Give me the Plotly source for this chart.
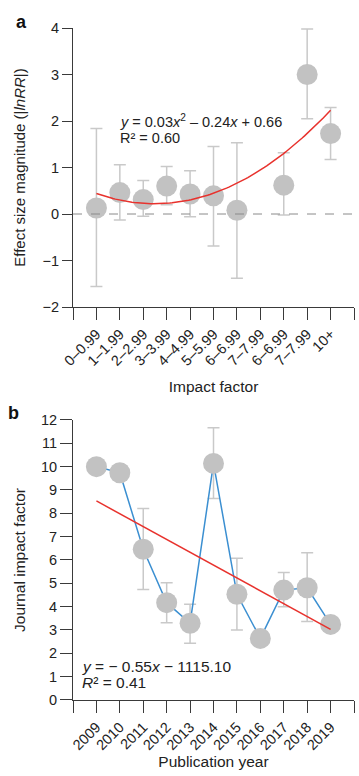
import numpy as np
import plotly.graph_objects as go

# ---------- Panel a data ----------
a_labels = ["0–0.99", "1–1.99", "2–2.99", "3–3.99", "4–4.99", "5–5.99",
            "6–6.99", "7–7.99", "6–6.99", "7–7.99", "10+"]
a_values = [0.13, 0.46, 0.31, 0.60, 0.43, 0.39, 0.08, None, 0.62, 3.00, 1.73]
a_upper = [1.84, 1.06, 0.72, 1.02, 0.93, 1.45, 1.53, None, 1.32, 3.98, 2.29]
a_lower = [-1.56, -0.13, -0.05, 0.20, -0.06, -0.69, -1.38, None, -0.02, 2.05, 1.17]
# quadratic trend (in category-index units), as drawn
a_fit_coef = [0.0356, -0.177, 0.44]

# ---------- Panel b data ----------
b_years = [2009, 2010, 2011, 2012, 2013, 2014, 2015, 2016, 2017, 2018, 2019]
b_values = [10.0, 9.74, 6.46, 4.17, 3.29, 10.14, 4.53, 2.64, 4.71, 4.81, 3.24]
b_upper = [None, None, 8.21, 5.03, 4.10, 11.67, 6.07, None, 5.46, 6.31, None]
b_lower = [None, None, 4.74, 3.31, 2.43, 8.64, 3.00, None, 4.00, 3.36, None]
b_fit_years = [2009, 2019]
b_fit_values = [8.53, 3.03]

FONT = "Liberation Sans, Arial, Helvetica, sans-serif"
MARK = "#c2c2c2"
ERR = "#c9c9c9"
AX = "#3a3a3a"


def errs(vals, up, lo):
    plus, minus = [], []
    for v, u, l in zip(vals, up, lo):
        if v is None or u is None:
            plus.append(np.nan)
            minus.append(np.nan)
        else:
            plus.append(u - v)
            minus.append(v - l)
    return plus, minus


fig = go.Figure()

# Panel a
ax_idx = list(range(len(a_labels)))
pa, ma = errs(a_values, a_upper, a_lower)
fig.add_trace(go.Scatter(
    x=ax_idx, y=[np.nan if v is None else v for v in a_values],
    mode="markers",
    marker=dict(size=21, color=MARK, line=dict(width=0)),
    error_y=dict(type="data", array=pa, arrayminus=ma, color=ERR,
                 thickness=1.5, width=6, symmetric=False),
    xaxis="x", yaxis="y", showlegend=False, hoverinfo="skip"))

xs = np.linspace(0, len(a_labels) - 1, 100)
ys = np.polyval(a_fit_coef, xs)
fig.add_trace(go.Scatter(x=xs, y=ys, mode="lines",
                         line=dict(color="#e8322d", width=1.5),
                         xaxis="x", yaxis="y", showlegend=False, hoverinfo="skip"))

# Panel b
pb, mb = errs(b_values, b_upper, b_lower)
fig.add_trace(go.Scatter(
    x=b_years, y=b_values, mode="lines+markers",
    line=dict(color="#3b8fd1", width=1.5),
    marker=dict(size=21, color=MARK, line=dict(width=0)),
    error_y=dict(type="data", array=pb, arrayminus=mb, color=ERR,
                 thickness=1.5, width=6, symmetric=False),
    xaxis="x2", yaxis="y2", showlegend=False, hoverinfo="skip"))
fig.add_trace(go.Scatter(x=b_fit_years, y=b_fit_values, mode="lines",
                         line=dict(color="#e8322d", width=1.5),
                         xaxis="x2", yaxis="y2", showlegend=False, hoverinfo="skip"))

tickfont = dict(family=FONT, size=14.5, color="#222")
common_ax = dict(showline=True, linecolor=AX, linewidth=1, ticks="outside",
                 tickcolor=AX, tickwidth=1, showgrid=False,
                 zeroline=False, tickfont=tickfont)

fig.update_layout(
    width=359, height=776,
    margin=dict(l=73, r=5, t=28, b=76),
    paper_bgcolor="white", plot_bgcolor="white",
    font=dict(family=FONT, color="#222"),
    xaxis=dict(domain=[0, 1], anchor="y", range=[-1, 11],
               tickvals=ax_idx, ticktext=a_labels,
               tickangle=-45, ticklen=12,
               minor=dict(tickvals=[-1, 11], ticklen=12, tickcolor=AX, tickwidth=1, ticks="outside"),
               title=dict(text="Impact factor", font=dict(family=FONT, size=15.5), standoff=13),
               **common_ax),
    yaxis=dict(domain=[0.5848, 1], anchor="x", range=[-2, 4], tickvals=[-2, -1, 0, 1, 2, 3, 4],
               ticktext=["−2", "−1", "0", "1", "2", "3", "4"], ticklen=10,
               title=dict(text="Effect size magnitude (|<i>lnRR</i>|)", font=dict(family=FONT, size=15), standoff=13),
               **common_ax),
    xaxis2=dict(domain=[0, 1], anchor="y2", range=[2008, 2020],
                tickvals=b_years, ticktext=[str(y) for y in b_years],
                tickangle=-45, ticklen=12,
                minor=dict(tickvals=[2008, 2020], ticklen=12, tickcolor=AX, tickwidth=1, ticks="outside"),
                title=dict(text="Publication year", font=dict(family=FONT, size=15.5), standoff=3),
                **common_ax),
    yaxis2=dict(domain=[0, 0.4167], anchor="x2", range=[0, 12], dtick=1, ticklen=12,
                title=dict(text="Journal impact factor", font=dict(family=FONT, size=15.5), standoff=11),
                **common_ax),
)

# dashed zero line in panel a
fig.add_shape(type="line", xref="paper", yref="y", x0=0, x1=1.02, y0=0, y1=0,
              line=dict(color="#8a8a8a", width=1, dash="dash"))

ann_font = dict(family=FONT, size=14.5, color="#222")
fig.add_annotation(xref="x", yref="y", x=0.92, y=2.01, xanchor="left", yanchor="middle",
                   text="<i>y</i> = 0.03<i>x</i><sup>2</sup> – 0.24<i>x</i> + 0.66",
                   showarrow=False, font=ann_font)
fig.add_annotation(xref="x", yref="y", x=0.92, y=1.63, xanchor="left", yanchor="middle",
                   text="R² = 0.60", showarrow=False, font=ann_font)
fig.add_annotation(xref="x2", yref="y2", x=2008.3, y=1.43, xanchor="left", yanchor="middle",
                   text="<i>y</i> = − 0.55<i>x</i> − 1115.10", showarrow=False,
                   font=dict(family=FONT, size=15.5, color="#222"))
fig.add_annotation(xref="x2", yref="y2", x=2008.3, y=0.74, xanchor="left", yanchor="middle",
                   text="<i>R</i>² = 0.41", showarrow=False,
                   font=dict(family=FONT, size=15.5, color="#222"))

# panel labels
fig.add_annotation(xref="paper", yref="paper", x=-0.182, y=1.009, xanchor="center", yanchor="middle",
                   text="<b>a</b>", showarrow=False, font=dict(family=FONT, size=18, color="#111"))
fig.add_annotation(xref="paper", yref="paper", x=-0.21, y=0.427, xanchor="center", yanchor="middle",
                   text="<b>b</b>", showarrow=False, font=dict(family=FONT, size=18, color="#111"))

fig.write_html("out.html")
